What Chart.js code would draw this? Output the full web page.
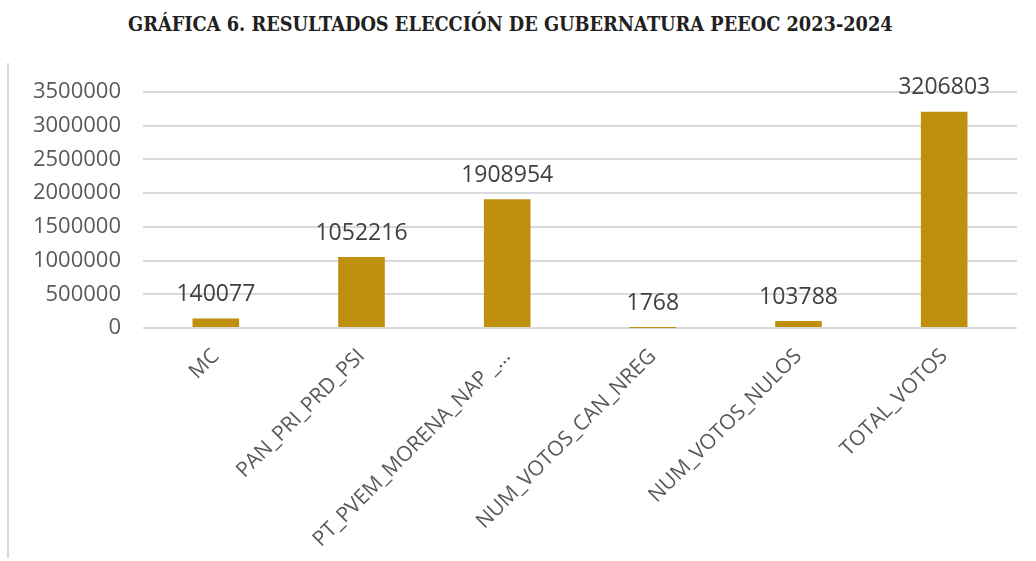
<!DOCTYPE html>
<html>
<head>
<meta charset="utf-8">
<script src="https://cdn.jsdelivr.net/npm/chart.js@4"></script>
<style>
    html, body { margin: 0; padding: 0; background: #fff; }
    #wrap { position: relative; width: 1036px; height: 561px; }
    #title {
        position: absolute; left: 128px; top: 11px; white-space: nowrap;
        font-family: "DejaVu Serif", serif; font-weight: bold;
        font-size: 21px; color: #231f20; transform-origin: 0 0;
    }
    #leftLine { position: absolute; left: 7px; top: 63px; width: 2px; height: 495px; background: #d9d9d9; }
    #resultsChart { position: absolute; left: 0; top: 0; }
</style>
</head>
<body>
<div id="wrap">
    <div id="title">GRÁFICA 6. RESULTADOS ELECCIÓN DE GUBERNATURA PEEOC 2023-2024</div>
    <div id="leftLine"></div>
    <canvas id="resultsChart" width="1036" height="561"></canvas>
</div>
<script>
// Gubernatura results
var categories = ['MC', 'PAN_PRI_PRD_PSI', 'PT_PVEM_MORENA_NAP _…', 'NUM_VOTOS_CAN_NREG', 'NUM_VOTOS_NULOS', 'TOTAL_VOTOS'];
var votes = [140077, 1052216, 1908954, 1768, 103788, 3206803];
var yTicks = [0, 500000, 1000000, 1500000, 2000000, 2500000, 3000000, 3500000];

// squeeze the title into the same width as the original
var title = document.getElementById('title');
title.style.transform = 'scaleX(' + (765 / title.offsetWidth) + ')';

// simple value labels above each bar
var valueLabels = {
    id: 'valueLabels',
    afterDatasetsDraw: function(chart) {
        var ctx = chart.ctx;
        var meta = chart.getDatasetMeta(0);
        ctx.save();
        ctx.font = '23px "Open Sans"';
        ctx.fillStyle = '#404040';
        ctx.textAlign = 'center';
        ctx.textBaseline = 'middle';
        meta.data.forEach(function(bar, i) {
            ctx.fillText(String(votes[i]), bar.x, bar.y - 24);
        });
        ctx.restore();
    }
};

var ctx = document.getElementById('resultsChart').getContext('2d');
var resultsChart = new Chart(ctx, {
    type: 'bar',
    data: {
        labels: categories,
        datasets: [{
            label: 'Votos',
            data: votes,
            backgroundColor: '#bf900c',
            borderWidth: 0,
            categoryPercentage: 1,
            barPercentage: 0.32
        }]
    },
    plugins: [valueLabels],
    options: {
        responsive: false,
        animation: false,
        layout: { padding: { left: 8, right: 19, top: 92, bottom: 0 } },
        plugins: {
            legend: { display: false },
            tooltip: { enabled: false }
        },
        scales: {
            x: {
                afterFit: function(scale) { scale.height = 233; },
                grid: { display: false },
                border: { display: false },
                ticks: {
                    color: '#595959',
                    font: { family: 'Open Sans', size: 21 },
                    minRotation: 45,
                    maxRotation: 45,
                    autoSkip: false,
                    padding: 8
                }
            },
            y: {
                min: 0,
                max: 3500000,
                afterFit: function(scale) { scale.width = 135; },
                afterBuildTicks: function(scale) {
                    scale.ticks = yTicks.map(function(v) { return { value: v }; });
                },
                grid: { color: '#d9d9d9', lineWidth: 2, drawTicks: false },
                border: { display: false },
                ticks: {
                    color: '#595959',
                    font: { family: 'Open Sans', size: 22 },
                    padding: 22,
                    callback: function(value) { return String(value); }
                }
            }
        }
    }
});
</script>
</body>
</html>
